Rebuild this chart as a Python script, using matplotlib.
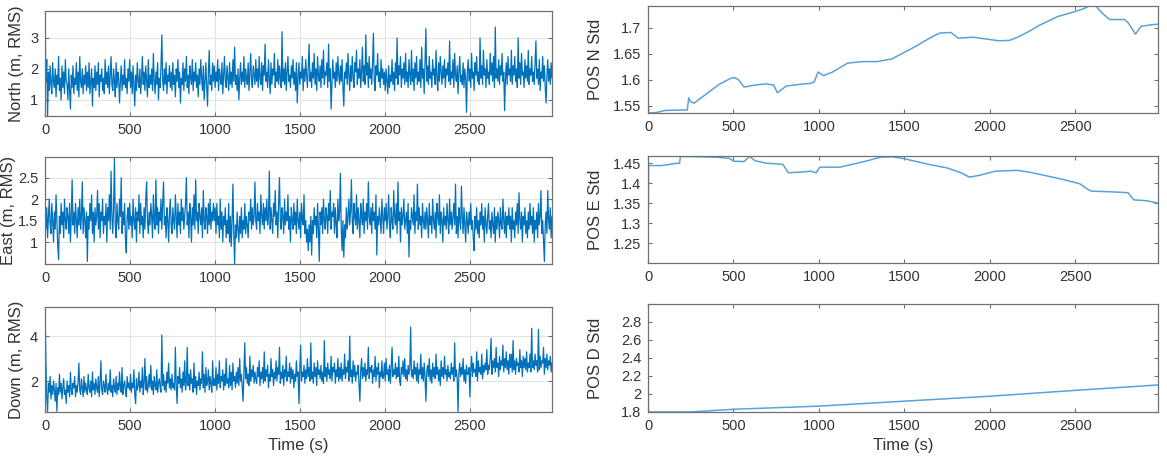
import numpy as np
import matplotlib
matplotlib.use('Agg')
import matplotlib.pyplot as plt

plt.rcParams['font.family'] = ['Liberation Sans', 'DejaVu Sans']

t_end = 2985

# 左列: 位置误差 (每 5 s 一个点, 每行 250 s)
north = [3.87, 1.6, 2.3, 0.48, 1.9, 1.3, 2.1, 1.5, 1.2, 2.2, 1.6, 1.4, 2.0, 1.1, 1.8, 1.5, 2.4, 1.3, 1.7, 1.0, 2.1, 1.4, 1.9, 1.2, 2.3, 1.6, 1.5, 1.0, 2.0, 1.3, 0.7, 1.8, 1.4, 2.1, 1.2, 1.7, 1.5, 2.2, 1.3, 1.9, 1.1, 2.4, 1.6, 1.4, 2.0, 1.2, 1.8, 1.5, 2.1, 1.3,
         1.9, 1.4, 2.2, 1.2, 1.6, 2.0, 0.8, 1.7, 1.4, 2.1, 1.3, 1.9, 1.5, 2.2, 1.1, 1.8, 1.6, 2.0, 1.3, 1.7, 1.2, 2.3, 1.5, 1.9, 1.4, 2.1, 1.2, 1.8, 2.4, 1.5, 1.3, 2.0, 1.6, 1.1, 2.2, 1.4, 1.9, 1.7, 0.9, 1.6, 2.1, 1.3, 1.8, 1.5, 2.3, 1.4, 1.7, 1.2, 2.0, 1.6,
         2.3, 1.4, 1.9, 1.2, 2.1, 1.5, 0.8, 1.8, 1.3, 2.2, 1.6, 1.4, 2.0, 1.2, 1.7, 2.4, 1.5, 1.9, 1.3, 2.1, 1.6, 1.1, 2.3, 1.4, 1.8, 1.5, 2.0, 1.3, 2.5, 1.6, 1.2, 1.9, 1.5, 2.2, 1.0, 1.7, 1.4, 2.1, 3.1, 1.6, 1.3, 2.0, 1.5, 2.2, 1.2, 1.8, 1.6, 2.1, 1.4, 1.9,
         1.3, 2.2, 1.5, 1.8, 1.1, 2.0, 1.6, 2.3, 1.4, 1.9, 0.9, 1.7, 1.5, 2.2, 1.3, 2.0, 1.6, 2.4, 1.4, 1.8, 1.2, 2.1, 1.7, 1.5, 2.3, 1.3, 1.9, 1.6, 2.2, 1.4, 1.8, 1.1, 2.0, 1.5, 2.3, 1.7, 1.3, 2.1, 1.0, 1.6, 2.2, 1.4, 0.8, 1.9, 2.6, 1.5, 1.8, 1.3, 2.2, 1.6,
         2.1, 1.4, 1.9, 1.6, 2.3, 1.3, 2.0, 1.7, 1.5, 2.2, 1.2, 1.8, 2.4, 1.6, 1.4, 2.1, 1.7, 1.3, 2.2, 1.5, 1.9, 1.4, 2.3, 1.6, 2.7, 1.5, 1.8, 1.3, 2.0, 1.0, 1.7, 2.2, 1.5, 1.9, 1.6, 2.4, 1.4, 2.0, 1.7, 1.5, 2.2, 1.3, 1.9, 2.5, 1.6, 1.4, 2.1, 1.8, 1.5, 2.3,
         1.6, 2.0, 1.4, 2.4, 1.7, 1.5, 2.2, 1.3, 2.1, 1.8, 2.8, 1.6, 1.9, 1.4, 2.3, 1.7, 1.2, 2.2, 1.5, 2.0, 1.8, 2.5, 1.4, 1.9, 1.6, 2.3, 1.5, 2.1, 1.7, 1.4, 3.2, 1.6, 2.0, 1.5, 2.2, 1.3, 1.9, 2.4, 1.6, 1.8, 1.4, 2.1, 1.7, 2.3, 1.5, 1.9, 1.3, 2.2, 0.9, 1.7,
         2.2, 1.5, 1.9, 1.7, 2.4, 1.3, 2.0, 1.6, 2.3, 1.8, 1.4, 2.1, 2.8, 1.6, 1.9, 1.4, 2.2, 1.7, 2.5, 1.5, 2.0, 1.3, 2.4, 1.8, 1.6, 2.1, 1.4, 2.3, 1.7, 2.6, 1.5, 1.9, 1.8, 2.2, 1.4, 2.8, 1.6, 2.0, 0.7, 1.5, 2.3, 1.7, 1.9, 1.4, 2.2, 1.6, 2.4, 1.8, 1.5, 2.1,
         1.6, 2.3, 1.4, 0.8, 1.9, 1.7, 2.2, 1.5, 2.5, 1.8, 1.3, 2.1, 1.6, 2.4, 1.7, 1.4, 2.2, 1.9, 2.6, 1.5, 2.0, 1.7, 2.3, 1.4, 1.9, 2.7, 1.6, 2.1, 1.5, 3.1, 1.8, 2.2, 1.4, 2.4, 1.7, 2.0, 1.5, 2.2, 3.15, 1.6, 1.3, 2.1, 1.8, 2.5, 1.6, 1.9, 1.4, 2.3, 1.7, 2.0,
         1.5, 1.9, 1.3, 2.0, 1.6, 1.2, 2.1, 1.4, 1.8, 1.6, 2.3, 1.5, 1.9, 1.3, 2.2, 1.7, 3.0, 1.5, 2.1, 1.8, 2.4, 1.4, 2.0, 1.7, 2.2, 1.5, 2.5, 1.6, 1.9, 1.4, 2.3, 1.8, 1.5, 2.6, 1.6, 2.0, 1.3, 2.2, 1.7, 2.4, 1.5, 1.9, 1.6, 2.3, 1.4, 2.7, 1.7, 2.0, 1.2, 2.2,
         3.3, 1.6, 2.1, 1.5, 2.4, 1.7, 1.9, 1.4, 2.3, 1.8, 2.0, 1.5, 2.6, 1.7, 1.3, 2.2, 1.6, 2.4, 1.9, 1.5, 2.1, 1.7, 2.3, 1.4, 2.0, 1.8, 2.2, 1.6, 2.9, 1.5, 1.9, 1.7, 2.3, 1.4, 2.5, 1.8, 1.6, 2.1, 1.2, 1.9, 2.4, 1.6, 1.8, 1.5, 2.2, 1.4, 2.0, 1.7, 0.6, 1.9,
         2.3, 1.6, 2.0, 1.4, 2.5, 1.7, 1.9, 1.3, 2.2, 1.8, 2.4, 1.6, 1.9, 1.5, 3.0, 1.7, 2.1, 1.5, 2.6, 1.8, 2.0, 1.4, 2.3, 1.7, 1.9, 1.5, 2.5, 1.8, 2.2, 1.6, 2.4, 1.4, 3.35, 1.7, 2.0, 1.6, 2.3, 1.5, 2.1, 1.8, 2.5, 1.6, 1.9, 0.65, 1.7, 2.2, 1.5, 2.4, 1.8, 2.0,
         1.6, 2.6, 1.5, 2.1, 1.8, 2.4, 1.6, 2.0, 1.4, 3.0, 1.7, 2.2, 1.5, 2.5, 1.8, 1.9, 1.4, 2.3, 1.7, 2.1, 1.6, 2.6, 1.5, 2.0, 1.8, 2.4, 1.6, 1.9, 1.5, 2.2, 2.9, 1.7, 2.0, 1.5, 2.3, 1.3, 1.9, 1.7, 2.4, 1.6, 2.1, 1.4, 0.9, 1.8, 2.3, 1.6, 2.0, 1.5, 2.2, 1.7]

east = [2.3, 1.3, 1.8, 1.1, 1.6, 2.0, 1.4, 1.2, 1.9, 1.5, 1.0, 1.7, 1.3, 2.1, 1.5, 0.9, 0.6, 1.6, 1.2, 1.9, 1.4, 1.7, 1.1, 2.0, 1.5, 1.3, 1.8, 1.6, 1.2, 1.9, 1.0, 1.6, 2.45, 1.4, 1.7, 1.2, 1.9, 1.5, 1.1, 1.8, 1.4, 2.0, 1.3, 1.6, 2.4, 1.2, 1.8, 1.5, 1.1, 1.7,
        0.55, 1.6, 1.3, 1.9, 1.5, 2.1, 1.2, 1.7, 1.0, 1.8, 1.4, 1.6, 2.2, 1.3, 1.9, 1.1, 1.7, 1.5, 2.0, 1.2, 1.6, 1.4, 1.9, 1.0, 1.8, 1.5, 2.1, 1.3, 2.65, 1.6, 1.2, 1.8, 2.95, 1.4, 1.1, 1.9, 1.5, 1.3, 2.0, 1.6, 2.5, 1.2, 1.7, 1.4, 1.9, 1.1, 0.75, 1.6, 1.8, 1.3,
        1.9, 1.4, 1.6, 1.1, 2.0, 1.5, 1.3, 1.8, 1.0, 1.7, 1.5, 2.1, 1.2, 1.9, 1.4, 1.6, 1.1, 1.8, 1.3, 2.0, 2.4, 1.5, 1.2, 1.7, 1.4, 1.9, 1.6, 1.1, 2.1, 1.5, 1.3, 2.45, 1.4, 1.8, 1.2, 1.7, 1.5, 2.0, 1.3, 1.9, 2.4, 1.4, 1.6, 1.1, 1.8, 1.5, 1.0, 1.7, 2.0, 1.4,
        1.2, 1.8, 1.5, 1.3, 2.1, 1.6, 1.1, 1.9, 1.4, 1.7, 1.2, 2.0, 1.5, 1.8, 1.3, 1.6, 1.9, 2.5, 1.4, 1.7, 1.1, 1.9, 1.6, 1.0, 1.8, 1.4, 2.1, 1.3, 2.45, 1.5, 1.7, 1.2, 1.9, 1.6, 1.4, 1.8, 1.1, 2.2, 1.5, 1.3, 1.8, 1.6, 1.2, 1.9, 1.4, 2.0, 1.3, 1.7, 1.5, 1.9,
        1.5, 1.8, 1.2, 1.9, 1.4, 1.6, 1.1, 2.0, 1.3, 1.7, 1.0, 1.6, 1.4, 1.8, 1.1, 1.5, 1.2, 1.9, 1.0, 1.6, 0.9, 1.5, 2.35, 1.2, 0.5, 1.4, 1.1, 1.7, 1.3, 1.0, 1.6, 1.2, 1.8, 1.1, 1.5, 1.3, 1.9, 1.2, 1.6, 1.4, 1.1, 1.7, 1.5, 2.0, 1.3, 1.8, 1.4, 1.6, 2.4, 1.5,
        1.3, 1.9, 1.5, 1.7, 1.2, 2.1, 1.6, 1.4, 1.9, 1.3, 1.8, 1.5, 2.0, 1.4, 1.6, 2.65, 1.3, 1.8, 1.5, 1.2, 1.9, 1.6, 2.2, 1.4, 1.7, 1.1, 1.9, 2.5, 1.5, 1.3, 1.8, 1.6, 1.2, 2.0, 1.4, 1.7, 1.5, 2.1, 1.3, 1.6, 1.0, 1.8, 1.5, 1.3, 1.9, 1.4, 1.7, 1.2, 2.0, 1.5,
        1.3, 1.7, 1.1, 1.9, 1.5, 1.4, 2.1, 1.2, 1.5, 1.0, 1.3, 0.8, 1.4, 1.0, 1.6, 0.7, 1.5, 1.2, 1.8, 1.4, 1.6, 1.1, 1.9, 1.3, 0.55, 1.7, 1.4, 1.8, 1.2, 2.0, 1.5, 1.3, 1.8, 1.6, 1.2, 1.9, 1.5, 2.2, 1.3, 1.7, 1.6, 1.9, 1.2, 1.8, 1.4, 1.1, 2.0, 1.5, 1.7, 2.6,
        1.3, 0.8, 1.5, 0.65, 1.4, 1.1, 1.8, 1.3, 1.6, 2.0, 1.4, 1.7, 2.45, 1.5, 1.2, 1.9, 1.6, 1.4, 2.1, 1.3, 1.8, 1.5, 1.1, 1.9, 1.6, 1.4, 2.0, 1.2, 1.7, 1.5, 1.9, 1.3, 2.4, 1.6, 1.4, 1.8, 1.2, 1.9, 1.5, 1.7, 1.3, 2.1, 0.7, 1.6, 1.4, 1.8, 1.5, 1.2, 2.0, 1.6,
        1.2, 1.8, 1.5, 1.9, 1.3, 1.6, 2.1, 1.4, 1.1, 1.8, 1.5, 1.3, 2.2, 1.6, 1.4, 1.9, 1.2, 2.4, 1.5, 1.7, 1.0, 1.8, 1.4, 1.6, 2.0, 1.3, 1.5, 1.7, 1.2, 1.9, 0.65, 1.5, 1.3, 1.8, 1.6, 1.4, 2.1, 1.2, 1.7, 1.5, 2.35, 1.3, 1.8, 1.4, 1.6, 1.1, 1.9, 1.5, 1.3, 1.7,
        1.3, 1.8, 1.5, 1.1, 1.9, 1.4, 1.6, 1.2, 2.0, 1.5, 1.3, 1.7, 1.1, 1.9, 1.6, 1.4, 2.1, 1.2, 1.7, 1.5, 1.0, 1.8, 1.4, 1.6, 1.3, 1.9, 1.5, 1.2, 2.0, 1.4, 1.7, 1.3, 1.6, 1.9, 1.4, 2.35, 1.2, 1.6, 1.1, 1.8, 1.5, 1.3, 2.3, 1.6, 1.2, 1.8, 1.4, 1.0, 1.7, 1.5,
        1.2, 1.7, 1.4, 1.9, 1.3, 1.5, 1.1, 0.8, 1.6, 1.3, 1.8, 1.2, 1.5, 1.1, 1.7, 1.4, 1.9, 1.3, 1.6, 1.0, 1.8, 1.4, 1.2, 1.6, 1.9, 1.3, 1.5, 1.1, 1.7, 1.4, 1.2, 1.8, 1.0, 1.6, 1.3, 1.7, 1.5, 1.1, 1.8, 1.4, 1.3, 2.0, 1.5, 1.2, 1.7, 1.1, 1.6, 1.4, 1.8, 1.3,
        1.6, 1.0, 1.8, 1.3, 1.5, 1.1, 1.7, 1.4, 1.9, 1.2, 2.15, 1.5, 1.3, 1.7, 1.0, 1.6, 1.4, 1.8, 1.2, 1.5, 1.1, 1.7, 1.3, 1.9, 1.4, 1.6, 1.2, 1.8, 1.0, 1.5, 1.3, 1.7, 1.1, 1.9, 1.4, 1.6, 2.2, 1.2, 1.5, 1.0, 0.55, 1.4, 1.7, 1.2, 2.2, 1.5, 1.3, 1.8, 1.1, 1.6]

down = [5.3, 2.9, 1.3, 0.65, 1.9, 1.5, 2.2, 1.2, 1.8, 1.4, 2.0, 1.6, 1.1, 1.9, 0.65, 1.7, 1.4, 2.3, 1.5, 1.9, 1.2, 1.7, 2.1, 1.4, 1.6, 1.0, 2.0, 1.5, 1.8, 1.3, 2.4, 1.6, 1.4, 1.9, 1.7, 2.2, 1.3, 1.8, 1.5, 2.0, 2.8, 1.6, 1.4, 2.1, 1.7, 1.3, 2.2, 1.5, 1.9, 1.6,
        1.4, 2.3, 1.7, 1.5, 2.0, 1.3, 2.4, 1.6, 1.9, 1.4, 2.1, 1.7, 1.5, 2.2, 1.3, 1.9, 2.9, 1.6, 1.4, 2.0, 1.8, 1.5, 2.3, 1.7, 1.4, 1.9, 1.6, 2.5, 1.5, 1.8, 1.3, 2.1, 1.7, 1.5, 2.2, 1.4, 1.9, 1.6, 2.4, 1.7, 1.5, 2.6, 1.4, 1.8, 2.0, 1.6, 1.3, 2.2, 1.7, 1.9,
        1.6, 2.3, 1.5, 1.9, 1.7, 2.5, 1.4, 1.0, 2.1, 1.6, 1.8, 2.4, 1.5, 2.0, 1.7, 2.6, 1.4, 1.9, 3.0, 1.6, 2.2, 1.5, 1.8, 2.3, 1.7, 2.7, 1.6, 2.0, 1.4, 2.2, 1.8, 1.6, 2.5, 1.5, 1.9, 2.1, 1.7, 1.5, 4.05, 1.8, 2.3, 1.6, 2.0, 1.5, 2.4, 1.9, 2.8, 1.7, 2.1, 1.6,
        2.3, 1.7, 1.9, 1.6, 3.5, 1.8, 1.0, 2.2, 1.9, 2.6, 1.7, 2.1, 1.5, 2.4, 1.8, 2.9, 1.6, 2.0, 3.5, 1.8, 2.3, 1.6, 2.5, 1.9, 2.1, 1.5, 2.8, 1.7, 2.2, 1.4, 2.0, 1.8, 2.4, 1.6, 2.1, 1.9, 3.3, 1.7, 2.3, 1.5, 2.6, 1.8, 2.0, 2.5, 1.6, 2.2, 1.9, 1.5, 2.9, 1.8,
        2.1, 1.8, 2.6, 1.6, 2.3, 1.9, 2.9, 1.7, 2.2, 2.0, 2.5, 1.6, 2.3, 1.8, 3.0, 1.9, 2.1, 1.7, 2.7, 1.8, 2.4, 1.6, 2.8, 2.0, 2.2, 1.7, 2.4, 1.9, 2.6, 1.8, 3.0, 2.0, 2.3, 1.7, 1.1, 2.4, 3.7, 2.1, 2.6, 1.9, 2.3, 1.8, 3.1, 2.0, 2.5, 2.2, 2.7, 1.9, 2.4, 2.1,
        1.9, 2.6, 2.2, 2.9, 1.8, 2.4, 2.1, 2.6, 1.9, 3.3, 2.0, 2.5, 2.2, 2.7, 1.7, 2.3, 2.0, 3.0, 2.2, 2.5, 1.8, 2.4, 2.1, 2.9, 2.0, 2.6, 2.3, 3.5, 1.9, 2.4, 2.1, 2.7, 1.8, 2.5, 2.2, 3.1, 2.0, 2.4, 2.2, 2.8, 1.9, 2.6, 2.1, 2.5, 1.7, 2.3, 2.0, 2.9, 2.2, 2.4,
        1.0, 2.5, 3.6, 2.0, 2.4, 2.2, 2.7, 1.9, 2.5, 2.1, 3.0, 2.2, 2.6, 2.0, 3.7, 2.1, 2.4, 1.9, 2.8, 2.2, 2.6, 1.8, 2.9, 2.3, 2.5, 2.1, 2.7, 2.0, 2.4, 1.9, 3.8, 2.2, 2.6, 2.0, 2.8, 2.3, 2.5, 2.1, 3.1, 2.0, 2.6, 2.4, 2.8, 1.9, 2.5, 2.2, 3.0, 2.0, 2.6, 2.1,
        2.8, 2.0, 2.5, 2.3, 3.2, 2.1, 2.6, 2.4, 2.9, 2.0, 4.0, 2.2, 2.5, 1.9, 2.9, 2.2, 2.7, 2.0, 2.4, 2.3, 2.7, 1.8, 1.1, 2.5, 3.0, 2.1, 2.6, 2.2, 2.8, 2.0, 2.5, 2.3, 3.5, 2.1, 2.6, 2.4, 2.7, 1.9, 2.5, 2.2, 3.1, 2.0, 2.6, 2.3, 2.8, 1.7, 2.4, 2.2, 2.9, 2.1,
        2.2, 2.8, 2.0, 3.0, 2.3, 2.5, 2.0, 2.7, 1.9, 2.6, 3.5, 2.2, 2.5, 2.3, 2.8, 2.1, 2.6, 2.2, 3.1, 2.0, 1.8, 2.6, 2.3, 2.9, 2.2, 3.0, 2.1, 2.5, 2.0, 2.7, 2.3, 2.6, 4.4, 2.2, 2.5, 2.1, 2.9, 2.3, 2.6, 2.0, 2.8, 1.9, 2.5, 2.3, 3.2, 2.1, 2.6, 2.0, 2.8, 2.2,
        1.1, 2.4, 2.7, 2.2, 3.0, 2.0, 2.5, 1.9, 2.8, 2.2, 2.6, 2.1, 3.2, 2.3, 2.6, 2.0, 2.5, 1.8, 2.9, 2.2, 2.6, 2.1, 3.1, 2.3, 2.5, 2.0, 2.7, 2.2, 2.4, 2.1, 2.8, 2.3, 2.6, 2.0, 3.7, 2.2, 2.5, 2.1, 0.65, 2.4, 2.8, 2.2, 2.6, 2.3, 3.0, 2.0, 2.5, 1.9, 2.7, 2.3,
        2.3, 2.6, 1.3, 2.5, 3.1, 2.2, 2.8, 2.4, 2.5, 2.2, 3.3, 2.0, 2.9, 2.4, 2.6, 2.3, 3.2, 2.1, 2.7, 2.4, 2.8, 2.5, 3.4, 2.3, 2.7, 2.5, 3.0, 3.9, 2.3, 2.9, 2.6, 3.0, 2.4, 3.5, 2.6, 2.8, 2.2, 3.1, 2.5, 2.9, 2.7, 3.6, 2.4, 3.0, 2.6, 3.3, 2.5, 2.9, 2.3, 3.2,
        2.6, 3.2, 2.4, 3.8, 2.5, 2.9, 2.3, 3.0, 2.7, 2.8, 2.4, 3.4, 2.6, 2.9, 2.2, 3.1, 2.6, 3.0, 2.5, 3.3, 2.4, 2.8, 2.6, 3.2, 2.4, 4.35, 2.6, 2.9, 2.5, 3.2, 2.7, 2.9, 2.4, 4.3, 2.5, 3.1, 2.6, 2.9, 2.8, 3.5, 2.3, 3.0, 2.6, 3.2, 2.5, 2.9, 2.7, 3.1, 2.4, 2.8]

# 右列: 标准差
n_std_t = [0, 3, 50, 100, 230, 238, 250, 270, 350, 420, 486, 508, 530, 562, 627, 690, 735, 757, 810, 908, 950, 973, 995,
           1027, 1081, 1167, 1254, 1340, 1427, 1513, 1570, 1621, 1670, 1708, 1773, 1816, 1902, 1989, 2054, 2118, 2183,
           2240, 2291, 2400, 2486, 2551, 2594, 2616, 2659, 2702, 2789, 2810, 2853, 2886, 2950, 2985]
n_std = [1.594, 1.536, 1.537, 1.541, 1.542, 1.565, 1.558, 1.555, 1.575, 1.592, 1.603, 1.604, 1.600, 1.586, 1.590, 1.592,
         1.590, 1.575, 1.588, 1.592, 1.593, 1.596, 1.615, 1.608, 1.615, 1.632, 1.635, 1.635, 1.640, 1.655, 1.665, 1.675,
         1.684, 1.690, 1.691, 1.680, 1.682, 1.678, 1.675, 1.676, 1.685, 1.695, 1.705, 1.722, 1.730, 1.737, 1.744, 1.744,
         1.728, 1.716, 1.716, 1.710, 1.688, 1.703, 1.706, 1.707]

e_std_t = [0, 3, 76, 173, 184, 190, 300, 400, 476, 500, 562, 594, 627, 692, 789, 821, 908, 951, 984, 1005, 1124, 1275,
           1362, 1427, 1491, 1643, 1751, 1837, 1880, 1945, 2032, 2162, 2226, 2335, 2421, 2486, 2529, 2572, 2594, 2724,
           2810, 2843, 2918, 2985]
e_std = [1.20, 1.444, 1.444, 1.450, 1.449, 1.467, 1.466, 1.465, 1.462, 1.455, 1.454, 1.467, 1.456, 1.450, 1.447, 1.426,
         1.428, 1.430, 1.426, 1.440, 1.440, 1.455, 1.465, 1.466, 1.462, 1.447, 1.438, 1.425, 1.415, 1.420, 1.430, 1.432,
         1.428, 1.418, 1.410, 1.403, 1.398, 1.385, 1.380, 1.378, 1.376, 1.358, 1.356, 1.350]

d_std_t = [0, 2, 250, 500, 1000, 1500, 2000, 2500, 2985]
d_std = [3.0, 1.8, 1.80, 1.83, 1.865, 1.92, 1.975, 2.04, 2.10]

left_labels = ['North (m, RMS)', 'East (m, RMS)', 'Down (m, RMS)']
left_ylims = [(0.48, 3.87), (0.49, 2.98), (0.62, 5.3)]
left_yticks = [[1, 2, 3], [1, 1.5, 2, 2.5], [2, 4]]
left_ytlabels = [['1', '2', '3'], ['1', '1.5', '2', '2.5'], ['2', '4']]

right_labels = ['POS N Std', 'POS E Std', 'POS D Std']
right_ylims = [(1.536, 1.742), (1.20, 1.468), (1.8, 3.0)]
right_yticks = [[1.55, 1.6, 1.65, 1.7], [1.25, 1.3, 1.35, 1.4, 1.45], [1.8, 2.0, 2.2, 2.4, 2.6, 2.8]]
right_ytlabels = [['1.55', '1.6', '1.65', '1.7'], ['1.25', '1.3', '1.35', '1.4', '1.45'],
                  ['1.8', '2', '2.2', '2.4', '2.6', '2.8']]

xticks = [0, 500, 1000, 1500, 2000, 2500]

fig = plt.figure(figsize=(11.67, 4.63), dpi=100)

left_pos = [[0.0386, 0.7495, 0.4344, 0.2268],
            [0.0386, 0.4298, 0.4344, 0.2311],
            [0.0386, 0.1102, 0.4344, 0.2268]]
right_pos = [[0.5553, 0.7559, 0.4370, 0.2311],
             [0.5553, 0.4320, 0.4370, 0.2311],
             [0.5553, 0.1102, 0.4370, 0.2333]]


def style(ax, grid):
    for s in ax.spines.values():
        s.set_color('#707070')
        s.set_linewidth(0.9)
    ax.tick_params(direction='in', length=3, width=0.8, colors='#707070',
                   labelcolor='#333333', labelsize=10.5, pad=5,
                   top=True, right=True)
    ax.set_xticks(xticks)
    ax.set_xticklabels([str(x) for x in xticks])
    ax.set_xlim(0, t_end)
    if grid:
        ax.grid(True, color='#e3e3e3', linewidth=0.8)
        ax.set_axisbelow(True)


left_data = [north, east, down]
left_pads = [4, 1, 4]
for i in range(3):
    ax = fig.add_axes(left_pos[i])
    y = left_data[i]
    x = np.linspace(0, t_end, len(y))
    ax.plot(x, y, color='#0072BD', linewidth=0.9)
    style(ax, True)
    ax.set_ylim(*left_ylims[i])
    ax.set_yticks(left_yticks[i])
    ax.set_yticklabels(left_ytlabels[i])
    ax.set_ylabel(left_labels[i], fontsize=12, color='#333333', labelpad=left_pads[i])
    if i == 2:
        ax.set_xlabel('Time (s)', fontsize=12, color='#333333', labelpad=4)

right_t = [n_std_t, e_std_t, d_std_t]
right_v = [n_std, e_std, d_std]
for i in range(3):
    ax = fig.add_axes(right_pos[i])
    ax.plot(right_t[i], right_v[i], color='#5aa2da', linewidth=1.1)
    style(ax, False)
    ax.set_ylim(*right_ylims[i])
    ax.set_yticks(right_yticks[i])
    ax.set_yticklabels(right_ytlabels[i])
    ax.set_ylabel(right_labels[i], fontsize=12, color='#333333')
    ax.yaxis.set_label_coords(-0.088, 0.5)
    if i == 2:
        ax.set_xlabel('Time (s)', fontsize=12, color='#333333', labelpad=4)

plt.savefig('out.png', dpi=100)
